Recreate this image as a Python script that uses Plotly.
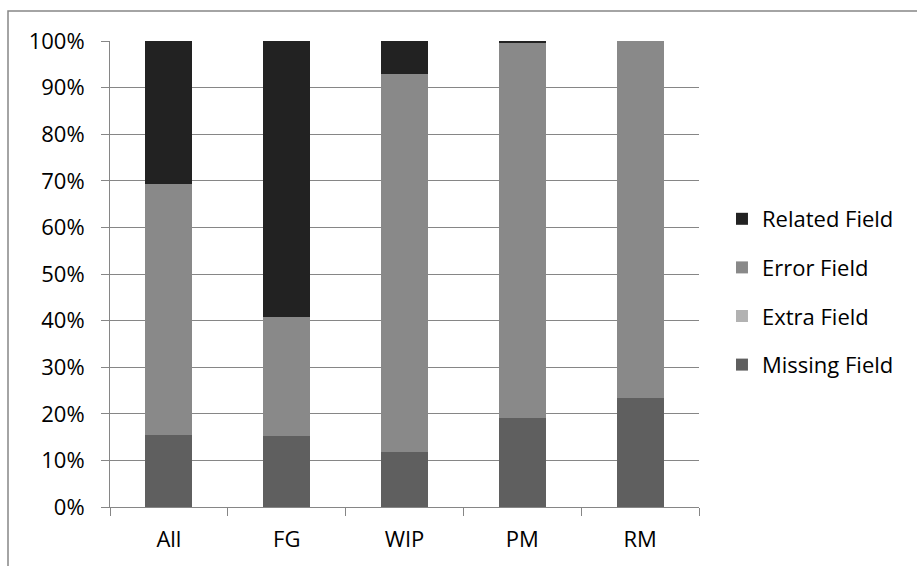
import plotly.graph_objects as go

categories = ["All", "FG", "WIP", "PM", "RM"]
missing_field = [15.5, 15.2, 11.8, 19.2, 23.4]
extra_field = [0, 0, 0, 0, 0]
error_field = [53.9, 25.6, 81.1, 80.5, 76.6]
related_field = [30.6, 59.2, 7.1, 0.3, 0.0]
y_ticks = [0, 10, 20, 30, 40, 50, 60, 70, 80, 90, 100]
y_tick_labels = [f"{v}%" for v in y_ticks]

series = [
    ("Missing Field", missing_field, "#5f5f5f", 4),
    ("Extra Field", extra_field, "#b2b2b2", 3),
    ("Error Field", error_field, "#898989", 2),
    ("Related Field", related_field, "#222222", 1),
]

fig = go.Figure()
for i, (name, vals, color, rank) in enumerate(series):
    fig.add_trace(go.Bar(
        x=categories, y=vals, name=name, legendgroup=f"g{i}", legendrank=rank,
        marker=dict(color=color, line=dict(width=0)),
    ))

FONT = "'Open Sans', sans-serif"
FS = 22
fig.update_layout(
    barmode="stack",
    bargap=0.6,
    width=917, height=566,
    margin=dict(l=110, r=218, t=41, b=59),
    paper_bgcolor="white", plot_bgcolor="white",
    font=dict(family=FONT, size=FS, color="#000000"),
    showlegend=True,
    legend=dict(
        x=1.039, y=(507 - 292) / 466, xanchor="left", yanchor="middle",
        traceorder="grouped", tracegroupgap=17,
        font=dict(size=FS), itemwidth=30,
    ),
    xaxis=dict(
        type="category", showline=True, linecolor="#868686", linewidth=1,
        ticks="outside", tickson="boundaries", ticklen=8, tickcolor="#868686",
        showgrid=False, tickfont=dict(size=FS), ticklabelstandoff=13,
    ),
    yaxis=dict(
        range=[0, 100], tickvals=y_ticks, ticktext=y_tick_labels,
        showline=True, linecolor="#868686", linewidth=1,
        ticks="outside", ticklen=8, tickcolor="#868686",
        showgrid=True, gridcolor="#868686", gridwidth=1,
        zeroline=False, tickfont=dict(size=FS), ticklabelstandoff=12,
    ),
    shapes=[dict(
        type="rect", xref="paper", yref="paper",
        x0=(8 - 110) / 589, x1=2, y0=-1, y1=(507 - 11) / 466,
        line=dict(color="#868686", width=1.5), layer="below",
    )],
)

fig.write_html("out.html")
